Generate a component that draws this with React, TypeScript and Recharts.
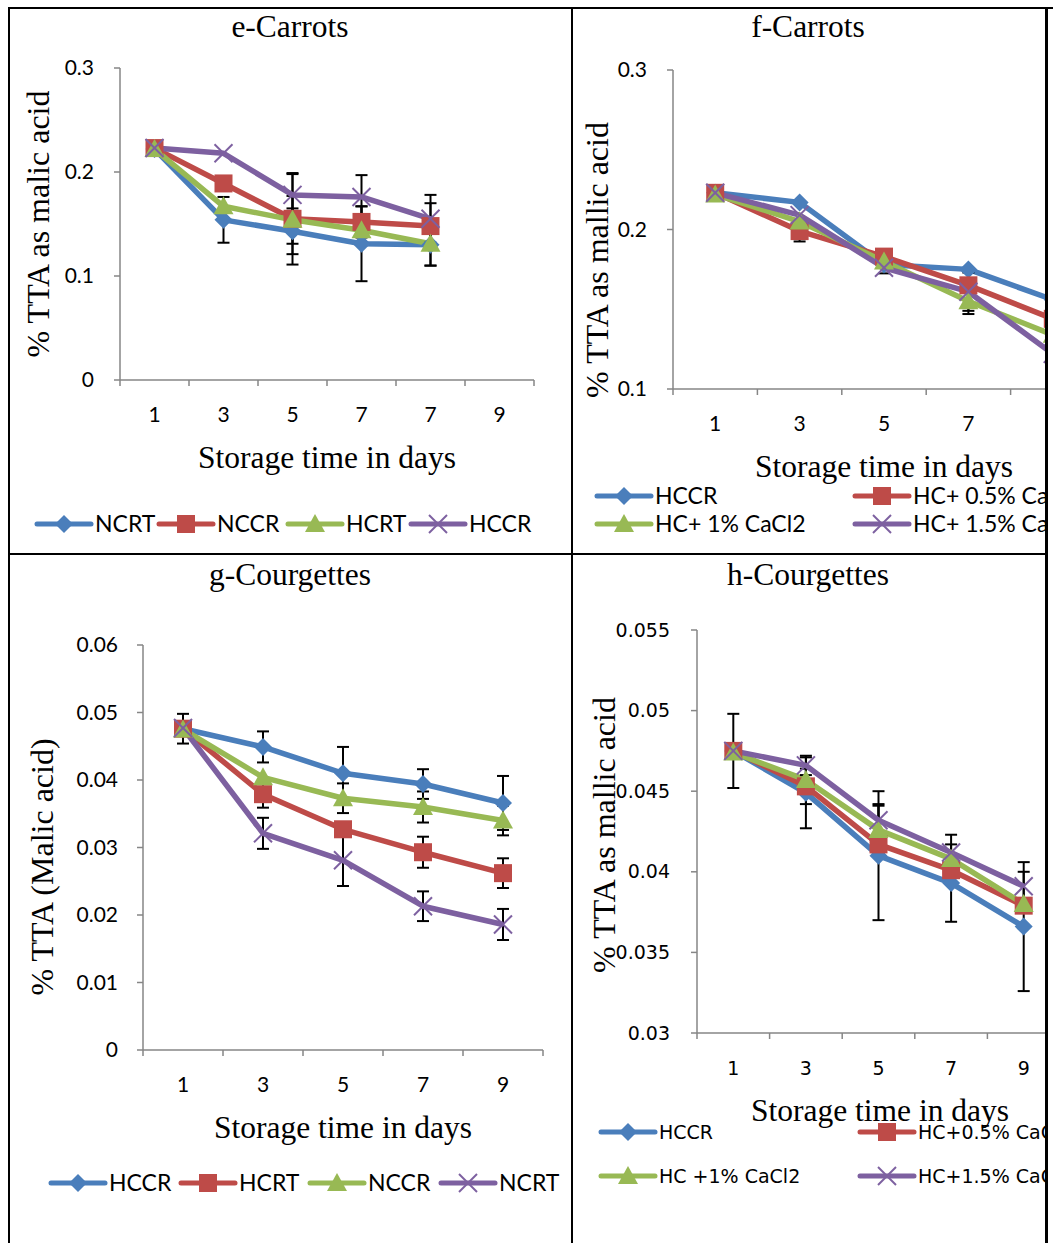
import React from 'react';
import { LineChart, Line, XAxis, YAxis, ErrorBar } from 'recharts';

// colours (Excel 2007 palette)
const BLUE = '#4A7EBB';
const RED = '#BE4B48';
const GREEN = '#98B954';
const PURPLE = '#7D60A0';
const AXIS = '#868686';

const SERIF = '"Liberation Serif", "Times New Roman", serif';
const SANS = 'Lato, "Open Sans", sans-serif';
const VERDANA = '"DejaVu Sans", Verdana, sans-serif';

// ---- e - Carrots ----
const eDays = ['1', '3', '5', '7', '7', '9'];
const eYTicks = [0, 0.1, 0.2, 0.3];
const eNCRT = [0.222, 0.154, 0.143, 0.131, 0.130, null];
const eNCCR = [0.223, 0.189, 0.155, 0.152, 0.148, null];
const eHCRT = [0.222, 0.167, 0.154, 0.144, 0.131, null];
const eHCCR = [0.223, 0.218, 0.178, 0.176, 0.155, null];
const eNCRTErr = [null, 0.022, 0.022, 0.036, 0.02, null];
const eNCCRErr = [null, null, 0.044, 0.015, 0.022, null];
const eHCRTErr = [null, null, 0.023, null, 0.021, null];
const eHCCRErr = [null, null, 0.02, 0.021, 0.023, null];

// ---- f - Carrots ----
const fDays = ['1', '3', '5', '7', '9'];
const fYTicks = [0.1, 0.2, 0.3];
const fHCCR = [0.223, 0.217, 0.178, 0.175, 0.156];
const fHC05 = [0.223, 0.199, 0.183, 0.165, 0.144];
const fHC1 = [0.222, 0.205, 0.180, 0.155, 0.134];
const fHC15 = [0.223, 0.209, 0.176, 0.161, 0.122];
const fHCCRErr = [null, null, null, null, null];
const fHC05Err = [null, 0.0065, null, null, null];
const fHC1Err = [null, null, 0.0075, 0.008, null];
const fHC15Err = [null, null, null, 0.012, null];

// ---- g - Courgettes ----
const gDays = ['1', '3', '5', '7', '9'];
const gYTicks = [0, 0.01, 0.02, 0.03, 0.04, 0.05, 0.06];
const gHCCR = [0.0476, 0.0449, 0.0410, 0.0394, 0.0366];
const gHCRT = [0.0476, 0.0379, 0.0327, 0.0293, 0.0262];
const gNCCR = [0.0475, 0.0404, 0.0373, 0.0360, 0.0340];
const gNCRT = [0.0477, 0.0321, 0.0281, 0.0213, 0.0186];
const gHCCRErr = [0.0022, 0.0023, 0.0039, 0.0022, 0.004];
const gHCRTErr = [null, 0.002, null, 0.0023, 0.0022];
const gNCCRErr = [null, null, 0.0022, 0.0023, 0.0022];
const gNCRTErr = [null, 0.0023, 0.0038, 0.0022, 0.0023];

// ---- h - Courgettes ----
const hDays = ['1', '3', '5', '7', '9'];
const hYTicks = [0.03, 0.035, 0.04, 0.045, 0.05, 0.055];
const hHCCR = [0.0475, 0.0449, 0.0410, 0.0393, 0.0366];
const hHC05 = [0.0475, 0.0453, 0.0417, 0.0401, 0.0379];
const hHC1 = [0.0474, 0.0457, 0.0426, 0.0408, 0.0380];
const hHC15 = [0.0475, 0.0466, 0.0432, 0.0412, 0.0391];
const hHCCRErr = [0.0023, 0.0022, 0.004, 0.0024, 0.004];
const hHC05Err = [null, 0.0011, null, null, null];
const hHC1Err = [null, null, 0.0015, null, null];
const hHC15Err = [null, 0.0006, 0.001, 0.0011, 0.0009];

type Shape = 'diamond' | 'square' | 'triangle' | 'x';
type Series = { name: string; color: string; shape: Shape; values: (number | null)[]; errors: (number | null)[] };

const eSeries: Series[] = [
  { name: 'NCRT', color: BLUE, shape: 'diamond', values: eNCRT, errors: eNCRTErr },
  { name: 'NCCR', color: RED, shape: 'square', values: eNCCR, errors: eNCCRErr },
  { name: 'HCRT', color: GREEN, shape: 'triangle', values: eHCRT, errors: eHCRTErr },
  { name: 'HCCR', color: PURPLE, shape: 'x', values: eHCCR, errors: eHCCRErr },
];
const fSeries: Series[] = [
  { name: 'HCCR', color: BLUE, shape: 'diamond', values: fHCCR, errors: fHCCRErr },
  { name: 'HC+ 0.5% CaCl2', color: RED, shape: 'square', values: fHC05, errors: fHC05Err },
  { name: 'HC+ 1% CaCl2', color: GREEN, shape: 'triangle', values: fHC1, errors: fHC1Err },
  { name: 'HC+ 1.5% CaCl2', color: PURPLE, shape: 'x', values: fHC15, errors: fHC15Err },
];
const gSeries: Series[] = [
  { name: 'HCCR', color: BLUE, shape: 'diamond', values: gHCCR, errors: gHCCRErr },
  { name: 'HCRT', color: RED, shape: 'square', values: gHCRT, errors: gHCRTErr },
  { name: 'NCCR', color: GREEN, shape: 'triangle', values: gNCCR, errors: gNCCRErr },
  { name: 'NCRT', color: PURPLE, shape: 'x', values: gNCRT, errors: gNCRTErr },
];
const hSeries: Series[] = [
  { name: 'HCCR', color: BLUE, shape: 'diamond', values: hHCCR, errors: hHCCRErr },
  { name: 'HC+0.5% CaCl2', color: RED, shape: 'square', values: hHC05, errors: hHC05Err },
  { name: 'HC +1% CaCl2', color: GREEN, shape: 'triangle', values: hHC1, errors: hHC1Err },
  { name: 'HC+1.5% CaCl2', color: PURPLE, shape: 'x', values: hHC15, errors: hHC15Err },
];

function Marker({ cx, cy, shape, color }: { cx: number; cy: number; shape: Shape; color: string }) {
  if (cx == null || cy == null || isNaN(cy)) return null;
  if (shape === 'diamond')
    return <polygon points={`${cx},${cy - 9} ${cx + 9},${cy} ${cx},${cy + 9} ${cx - 9},${cy}`} fill={color} />;
  if (shape === 'square') return <rect x={cx - 9} y={cy - 9} width={18} height={18} fill={color} />;
  if (shape === 'triangle')
    return <polygon points={`${cx},${cy - 10} ${cx + 10},${cy + 8} ${cx - 10},${cy + 8}`} fill={color} />;
  return (
    <g stroke={color} strokeWidth={2}>
      <line x1={cx - 9} y1={cy - 9} x2={cx + 9} y2={cy + 9} />
      <line x1={cx - 9} y1={cy + 9} x2={cx + 9} y2={cy - 9} />
    </g>
  );
}

// category labels sit on half steps, tick marks on the band edges (Excel style)
function XTick(props: any) {
  const { x, y, payload, labels, font, size } = props;
  const v = payload.value;
  if (Number.isInteger(v)) return <line x1={x} y1={y} x2={x} y2={y + 6} stroke={AXIS} strokeWidth={1.5} />;
  return (
    <text x={x} y={y + 35} dy="0.35em" textAnchor="middle" fontFamily={font} fontSize={size} fill="#000">
      {labels[Math.floor(v)]}
    </text>
  );
}

function YTick(props: any) {
  const { x, y, payload, font, size } = props;
  return (
    <text x={x} y={y} dy="0.35em" textAnchor="end" fontFamily={font} fontSize={size} fill="#000">
      {String(payload.value)}
    </text>
  );
}

type PanelProps = {
  days: string[];
  series: Series[];
  domain: [number, number];
  yTicks: number[];
  left: number;
  top: number;
  width: number;
  height: number;
  font: string;
  fontSize: number;
  tickGap: number;
};

function Panel({ days, series, domain, yTicks, left, top, width, height, font, fontSize, tickGap }: PanelProps) {
  const data = days.map((d, i) => {
    const row: any = { x: i + 0.5, day: d };
    series.forEach((s, k) => {
      row[`v${k}`] = s.values[i];
      row[`e${k}`] = s.errors[i];
    });
    return row;
  });
  const xTicks = days.flatMap((_, i) => [i, i + 0.5]).concat(days.length);

  return (
    <div style={{ position: 'absolute', left, top }}>
      <LineChart width={width} height={height} data={data} margin={{ top: 20, right: 10, bottom: 0, left: 0 }}>
        <XAxis
          type="number"
          dataKey="x"
          domain={[0, days.length]}
          ticks={xTicks}
          interval={0}
          height={60}
          tickSize={0}
          tickMargin={0}
          tickLine={false}
          axisLine={{ stroke: AXIS, strokeWidth: 1.5 }}
          tick={<XTick labels={days} font={font} size={fontSize} />}
        />
        <YAxis
          type="number"
          domain={domain}
          ticks={yTicks}
          interval={0}
          width={100}
          tickSize={6}
          tickMargin={tickGap}
          allowDataOverflow
          tickLine={{ stroke: AXIS, strokeWidth: 1.5 }}
          axisLine={{ stroke: AXIS, strokeWidth: 1.5 }}
          tick={<YTick font={font} size={fontSize} />}
        />
        {series.map((s, k) => (
          <Line
            key={s.name}
            type="linear"
            dataKey={`v${k}`}
            stroke={s.color}
            strokeWidth={5.5}
            strokeLinejoin="round"
            isAnimationActive={false}
            activeDot={false}
            dot={(p: any) => <Marker key={`${k}-${p.index}`} cx={p.cx} cy={p.cy} shape={s.shape} color={s.color} />}
          >
            <ErrorBar dataKey={`e${k}`} direction="y" width={6} stroke="#000" strokeWidth={2} isAnimationActive={false} />
          </Line>
        ))}
      </LineChart>
    </div>
  );
}

function LegendItem({ x, y, s, font, size }: { x: number; y: number; s: Series; font: string; size: number }) {
  return (
    <g>
      <line x1={x} y1={y} x2={x + 54} y2={y} stroke={s.color} strokeWidth={5} strokeLinecap="round" />
      <Marker cx={x + 27} cy={y} shape={s.shape} color={s.color} />
      <text x={x + 58} y={y} dy="0.36em" fontFamily={font} fontSize={size} fill="#000">
        {s.name}
      </text>
    </g>
  );
}

function VLabel({ x, y, text }: { x: number; y: number; text: string }) {
  return (
    <text
      x={x}
      y={y}
      dy="0.35em"
      transform={`rotate(-90 ${x} ${y})`}
      textAnchor="middle"
      fontFamily={SERIF}
      fontSize={32}
      fill="#000"
    >
      {text}
    </text>
  );
}

function Title({ x, y, text }: { x: number; y: number; text: string }) {
  return (
    <text x={x} y={y} textAnchor="middle" fontFamily={SERIF} fontSize={31.5} fill="#000">
      {text}
    </text>
  );
}

export default function App() {
  return (
    <div style={{ position: 'absolute', left: 0, top: 0, width: 1053, height: 1243, overflow: 'hidden', background: '#fff' }}>
      <Panel days={eDays} series={eSeries} domain={[0, 0.3]} yTicks={eYTicks} left={20} top={48} width={524} height={392} font={SANS} fontSize={21} tickGap={20} />
      <div style={{ position: 'absolute', left: 574, top: 10, width: 471, height: 543, overflow: 'hidden' }}>
        <Panel days={fDays} series={fSeries} domain={[0.1, 0.3]} yTicks={fYTicks} left={-1} top={40} width={532} height={399} font={SANS} fontSize={21} tickGap={20} />
      </div>
      <Panel days={gDays} series={gSeries} domain={[0, 0.06]} yTicks={gYTicks} left={43} top={625} width={510} height={485} font={SANS} fontSize={21} tickGap={19} />
      <div style={{ position: 'absolute', left: 574, top: 556, width: 471, height: 687, overflow: 'hidden' }}>
        <Panel days={hDays} series={hSeries} domain={[0.03, 0.055]} yTicks={hYTicks} left={23} top={54} width={473} height={483} font={VERDANA} fontSize={19} tickGap={21} />
      </div>

      <svg width={1053} height={1243} style={{ position: 'absolute', left: 0, top: 0, pointerEvents: 'none' }}>
        <defs>
          <clipPath id="rightCol">
            <rect x={574} y={0} width={471} height={1243} />
          </clipPath>
        </defs>
        {/* table borders */}
        <rect x={8} y={7} width={1045} height={2} fill="#000" />
        <rect x={8} y={7} width={2} height={1236} fill="#000" />
        <rect x={571} y={7} width={2} height={1236} fill="#000" />
        <rect x={8} y={553} width={1040} height={2} fill="#000" />
        <rect x={1045} y={7} width={3} height={1236} fill="#000" />

        <Title x={290} y={37} text="e-Carrots" />
        <Title x={808} y={37} text="f-Carrots" />
        <Title x={290} y={585} text="g-Courgettes" />
        <Title x={808} y={585} text="h-Courgettes" />

        <VLabel x={38} y={224} text="% TTA as malic acid" />
        <VLabel x={597} y={260} text="% TTA as mallic acid" />
        <VLabel x={42} y={867} text="% TTA (Malic acid)" />
        <VLabel x={604} y={835} text="% TTA as mallic acid" />

        <Title x={327} y={468} text="Storage time in days" />
        <Title x={884} y={477} text="Storage time in days" />
        <Title x={343} y={1138} text="Storage time in days" />
        <Title x={880} y={1121} text="Storage time in days" />

        <LegendItem x={37} y={524} s={eSeries[0]} font={SANS} size={23} />
        <LegendItem x={159} y={524} s={eSeries[1]} font={SANS} size={23} />
        <LegendItem x={288} y={524} s={eSeries[2]} font={SANS} size={23} />
        <LegendItem x={411} y={524} s={eSeries[3]} font={SANS} size={23} />

        <LegendItem x={51} y={1183} s={gSeries[0]} font={SANS} size={23} />
        <LegendItem x={181} y={1183} s={gSeries[1]} font={SANS} size={23} />
        <LegendItem x={310} y={1183} s={gSeries[2]} font={SANS} size={23} />
        <LegendItem x={441} y={1183} s={gSeries[3]} font={SANS} size={23} />

        <g clipPath="url(#rightCol)">
          <LegendItem x={597} y={496} s={fSeries[0]} font={SANS} size={23} />
          <LegendItem x={855} y={496} s={fSeries[1]} font={SANS} size={23} />
          <LegendItem x={597} y={524} s={fSeries[2]} font={SANS} size={23} />
          <LegendItem x={855} y={524} s={fSeries[3]} font={SANS} size={23} />

          <LegendItem x={601} y={1132} s={hSeries[0]} font={VERDANA} size={19} />
          <LegendItem x={860} y={1132} s={hSeries[1]} font={VERDANA} size={19} />
          <LegendItem x={601} y={1176} s={hSeries[2]} font={VERDANA} size={19} />
          <LegendItem x={860} y={1176} s={hSeries[3]} font={VERDANA} size={19} />
        </g>
      </svg>
    </div>
  );
}
